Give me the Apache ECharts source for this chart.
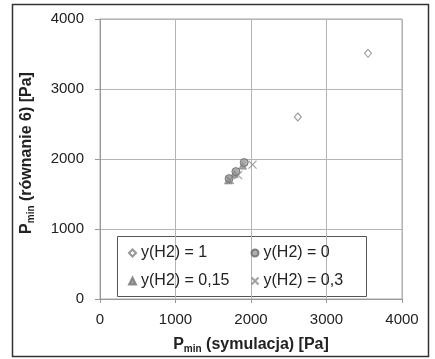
<!DOCTYPE html>
<html><head><meta charset="utf-8">
<script src="https://cdn.jsdelivr.net/npm/echarts@6/dist/echarts.min.js"></script>
<style>html,body{margin:0;padding:0;background:#fff}#c{width:435px;height:359px}</style>
</head><body><div id="c"></div>
<script>
const seriesNames = ['y(H2) = 1', 'y(H2) = 0', 'y(H2) = 0,15', 'y(H2) = 0,3'];
const dataH2_1 = [[2620, 2600], [3550, 3510]];
const dataH2_0 = [[1710, 1720], [1800, 1820], [1910, 1950]];
const dataH2_015 = [[1700, 1700], [1780, 1790], [1890, 1910]];
const dataH2_03 = [[1720, 1700], [1830, 1770], [2020, 1920]];
const axisMin = 0, axisMax = 4000, axisStep = 1000;

const font = 'Liberation Sans, Arial, sans-serif';
const crossPath = 'path://M0,0L10,10M10,0L0,10';
const chart = echarts.init(document.getElementById('c'), null, {renderer: 'canvas'});
const titleRich = {
  b: {fontFamily: font, fontWeight: 'bold', fontSize: 16, color: '#222', lineHeight: 19},
  s: {fontFamily: font, fontWeight: 'bold', fontSize: 10, color: '#222', verticalAlign: 'bottom', lineHeight: 14}
};
const legendText = {fontFamily: font, fontSize: 16, color: '#222'};
chart.setOption({
  animation: false,
  grid: {left: 100, right: 33, top: 19, bottom: 60, show: true, borderColor: '#a8a8a8', borderWidth: 1},
  xAxis: {
    type: 'value', min: axisMin, max: axisMax, interval: axisStep,
    name: '{b|P}{s|min}{b| (symulacja) [Pa]}', nameLocation: 'middle', nameGap: 36,
    nameTextStyle: {rich: titleRich},
    axisLine: {show: true, onZero: false, lineStyle: {color: '#999'}},
    axisTick: {show: true, length: 4, lineStyle: {color: '#999'}},
    axisLabel: {fontFamily: font, fontSize: 15, color: '#222', margin: 13, formatter: v => String(v)},
    splitLine: {show: true, lineStyle: {color: '#b4b4b4', width: 1}}
  },
  yAxis: {
    type: 'value', min: axisMin, max: axisMax, interval: axisStep,
    name: '{b|P}{s|min}{b| (równanie 6) [Pa]}', nameLocation: 'middle', nameGap: 64, nameRotate: 90,
    nameTextStyle: {rich: titleRich, padding: [0, 0, 0, 12]},
    axisLine: {show: true, onZero: false, lineStyle: {color: '#999'}},
    axisTick: {show: true, length: 5, lineStyle: {color: '#999'}},
    axisLabel: {fontFamily: font, fontSize: 15, color: '#222', margin: 16, formatter: v => String(v)},
    splitLine: {show: true, lineStyle: {color: '#b4b4b4', width: 1}}
  },
  legend: [
    {data: [seriesNames[0], seriesNames[2]], orient: 'vertical', left: 128, top: 245, itemGap: 12,
     itemWidth: 7, itemHeight: 7, textStyle: legendText, padding: 0},
    {data: [seriesNames[1], seriesNames[3]], orient: 'vertical', left: 249, top: 245, itemGap: 12,
     itemWidth: 7, itemHeight: 7, textStyle: legendText, padding: 0}
  ],
  graphic: [
    {type: 'rect', shape: {x: 12.5, y: 4.5, width: 416, height: 352}, style: {fill: 'none', stroke: '#333', lineWidth: 1.5}, silent: true, z: 100},
    {type: 'rect', shape: {x: 117.5, y: 236.5, width: 249, height: 60}, style: {fill: '#fff', stroke: '#555', lineWidth: 1}, silent: true, z: 0, zlevel: 0}
  ],
  series: [
    {name: seriesNames[0], type: 'scatter', data: dataH2_1, symbol: 'diamond', symbolSize: [7, 8],
     itemStyle: {color: '#fff', borderColor: '#7a7a7a', borderWidth: 1}, z: 3},
    {name: seriesNames[1], type: 'scatter', data: dataH2_0, symbol: 'circle', symbolSize: 8,
     itemStyle: {color: '#9a9a9a', borderColor: '#666', borderWidth: 1}, z: 4},
    {name: seriesNames[2], type: 'scatter', data: dataH2_015, symbol: 'triangle', symbolSize: 8,
     itemStyle: {color: '#888', borderColor: '#777', borderWidth: 0.5}, z: 3},
    {name: seriesNames[3], type: 'scatter', data: dataH2_03, symbol: crossPath, symbolSize: 8,
     itemStyle: {color: 'none', borderColor: '#888', borderWidth: 1.2}, z: 5}
  ]
});
</script></body></html>
